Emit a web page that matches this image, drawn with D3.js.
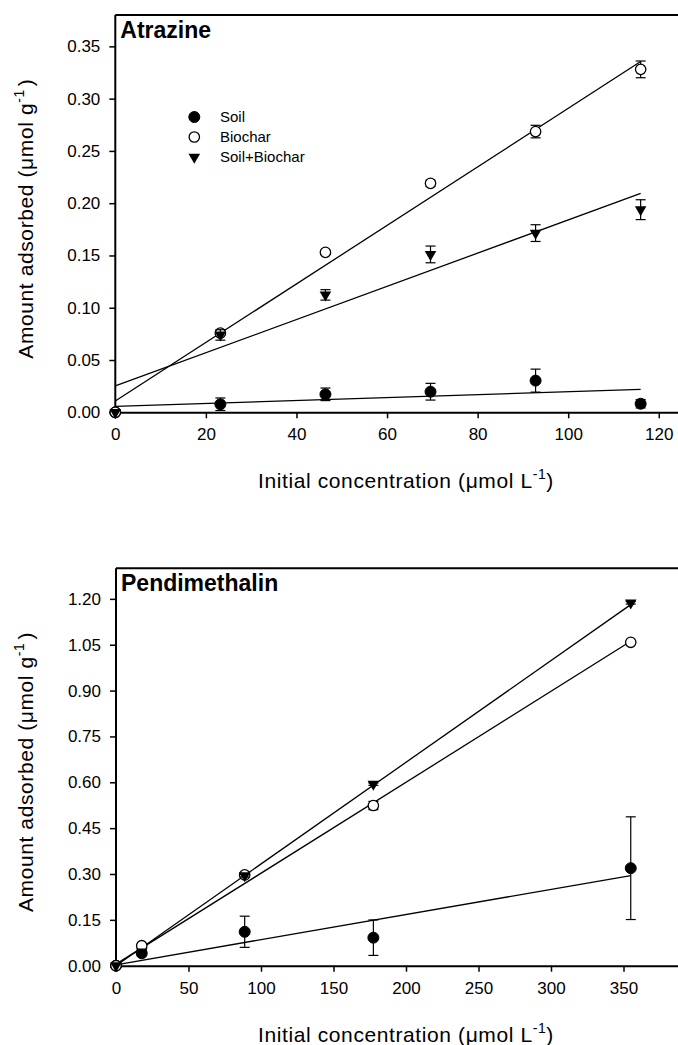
<!DOCTYPE html>
<html>
<head>
<meta charset="utf-8">
<script src="https://cdn.jsdelivr.net/npm/d3@7"></script>
<style>
  body { margin: 0; background: #fff; }
  svg text { font-family: "Liberation Sans", Arial, sans-serif; fill: #000; }
</style>
</head>
<body>
<svg id="chart" width="678" height="1045"></svg>
<script>
// Atrazine panel
const atrazineConc = [0, 23.2, 46.4, 69.6, 92.8, 116]
const atrazineSoil = [0, 0.0077, 0.0172, 0.0197, 0.0303, 0.0082]
const atrazineSoilErr = [0.001, 0.006, 0.006, 0.008, 0.011, 0.004]
const atrazineBiochar = [0, 0.0757, 0.153, 0.219, 0.2685, 0.328]
const atrazineBiocharErr = [0, 0.002, 0.002, 0.003, 0.006, 0.008]
const atrazineMix = [0, 0.074, 0.1123, 0.151, 0.1714, 0.1938]
const atrazineMixErr = [0, 0.005, 0.005, 0.008, 0.008, 0.0095]
// fitted lines: [intercept, slope]
const atrazineFits = [[0.0057, 0.0001405], [0.0108, 0.002799], [0.0252, 0.001588]]
const atrazineXTicks = [0, 20, 40, 60, 80, 100, 120]
const atrazineYTicks = [0, 0.05, 0.10, 0.15, 0.20, 0.25, 0.30, 0.35]

// Pendimethalin panel
const pendiConc = [0, 17.75, 88.75, 177.5, 355]
const pendiSoil = [0, 0.0406, 0.111, 0.0917, 0.319]
const pendiSoilErr = [0, 0.008, 0.051, 0.058, 0.168]
const pendiBiochar = [0, 0.0655, 0.297, 0.524, 1.058]
const pendiBiocharErr = [0, 0.003, 0.005, 0.0135, 0.004]
const pendiMix = [0, 0.045, 0.295, 0.594, 1.187]
const pendiMixErr = [0, 0.004, 0.005, 0.004, 0.004]
const pendiFits = [[0.003, 0.000822], [0.005, 0.002975], [0.0, 0.003327]]
const pendiXTicks = [0, 50, 100, 150, 200, 250, 300, 350]
const pendiYTicks = [0, 0.15, 0.30, 0.45, 0.60, 0.75, 0.90, 1.05, 1.20]

const seriesNames = ["Soil", "Biochar", "Soil+Biochar"]
const markers = ["filled", "open", "triangle"]

const svg = d3.select("#chart")

function drawMarker(g, type, x, y) {
    if (type === "filled") {
        g.append("circle").attr("cx", x).attr("cy", y).attr("r", 5.5)
            .style("fill", "#000").style("stroke", "#000").style("stroke-width", 1)
    } else if (type === "open") {
        g.append("circle").attr("cx", x).attr("cy", y).attr("r", 5.2)
            .style("fill", "#fff").style("stroke", "#000").style("stroke-width", 1.3)
    } else {
        g.append("path")
            .attr("d", d3.symbol().type(d3.symbolTriangle).size(58)())
            .attr("transform", "translate(" + x + "," + y + ")rotate(180)")
            .style("fill", "#000")
    }
}

function drawPanel(opt) {
    const x = d3.scaleLinear().domain(opt.xDomain).range([opt.left, opt.right])
    const y = d3.scaleLinear().domain(opt.yDomain).range([opt.bottom, opt.top])
    const g = svg.append("g")

    // top border of the frame
    g.append("line")
        .attr("x1", opt.left).attr("x2", 678)
        .attr("y1", opt.top).attr("y2", opt.top)
        .style("stroke", "#000").style("stroke-width", 2)

    const xAxis = g.append("g")
        .attr("transform", "translate(0," + opt.bottom + ")")
        .call(d3.axisBottom(x).tickValues(opt.xTicks).tickSize(6).tickSizeOuter(0).tickPadding(10)
            .tickFormat(d3.format("d")))
    const yAxis = g.append("g")
        .attr("transform", "translate(" + opt.left + ",0)")
        .call(d3.axisLeft(y).tickValues(opt.yTicks).tickSize(6).tickSizeOuter(0).tickPadding(9)
            .tickFormat(d3.format(".2f")))
    ;[xAxis, yAxis].forEach(a => {
        a.select(".domain").style("stroke", "#000").style("stroke-width", 2)
        a.selectAll(".tick line").style("stroke", "#000").style("stroke-width", 1.5)
        a.selectAll(".tick text").style("font-size", "17px").style("font-family", "Liberation Sans, Arial, sans-serif")
    })
    // y domain line should span the whole frame height
    yAxis.select(".domain").attr("d", "M0," + opt.top + "V" + opt.bottom)

    // fitted lines
    opt.fits.forEach(f => {
        const x0 = opt.conc[0], x1 = opt.conc[opt.conc.length - 1]
        g.append("line")
            .attr("x1", x(x0)).attr("y1", y(f[0] + f[1] * x0))
            .attr("x2", x(x1)).attr("y2", y(f[0] + f[1] * x1))
            .style("stroke", "#000").style("stroke-width", 1.3)
    })

    // error bars then markers, series by series
    opt.series.forEach((s, i) => {
        opt.conc.forEach((c, j) => {
            const e = s.err[j]
            if (e > 0) {
                const cx = x(c)
                const yt = y(s.values[j] + e), yb = y(s.values[j] - e)
                g.append("line").attr("x1", cx).attr("x2", cx).attr("y1", yt).attr("y2", yb)
                    .style("stroke", "#000").style("stroke-width", 1.2)
                ;[yt, yb].forEach(yy => {
                    g.append("line").attr("x1", cx - 5).attr("x2", cx + 5).attr("y1", yy).attr("y2", yy)
                        .style("stroke", "#000").style("stroke-width", 1.2)
                })
            }
        })
        opt.conc.forEach((c, j) => drawMarker(g, markers[i], x(c), y(s.values[j])))
    })

    // panel name
    g.append("text")
        .attr("x", opt.left + 5).attr("y", opt.top + 23)
        .style("font-size", "23px").style("font-weight", "bold")
        .text(opt.name)

    // axis titles
    const xt = g.append("text")
        .attr("x", 406).attr("y", opt.bottom + 76)
        .attr("text-anchor", "middle")
        .style("font-size", "21px").style("letter-spacing", "0.6px")
    xt.append("tspan").text("Initial concentration (\u03bcmol L")
    xt.append("tspan").attr("dy", -9).style("font-size", "14px").text("-1")
    xt.append("tspan").attr("dy", 9).text(")")

    const yt = g.append("text")
        .attr("transform", "translate(33," + ((opt.top + opt.bottom) / 2 + 5) + ")rotate(-90)")
        .attr("text-anchor", "middle")
        .style("font-size", "21px").style("letter-spacing", "0.6px")
    yt.append("tspan").text("Amount adsorbed (\u03bcmol g")
    yt.append("tspan").attr("dy", -9).style("font-size", "14px").text("-1")
    yt.append("tspan").attr("dy", 9).attr("dx", 3).text(")")

    return g
}

drawPanel({
    name: "Atrazine",
    left: 115.3, right: 695, top: 15, bottom: 412.3,
    xDomain: [0, 128], yDomain: [0, 0.38],
    xTicks: atrazineXTicks, yTicks: atrazineYTicks,
    conc: atrazineConc, fits: atrazineFits,
    series: [
        {values: atrazineSoil, err: atrazineSoilErr},
        {values: atrazineBiochar, err: atrazineBiocharErr},
        {values: atrazineMix, err: atrazineMixErr}
    ]
})

drawPanel({
    name: "Pendimethalin",
    left: 116, right: 696, top: 568.3, bottom: 965.7,
    xDomain: [0, 400], yDomain: [0, 1.30],
    xTicks: pendiXTicks, yTicks: pendiYTicks,
    conc: pendiConc, fits: pendiFits,
    series: [
        {values: pendiSoil, err: pendiSoilErr},
        {values: pendiBiochar, err: pendiBiocharErr},
        {values: pendiMix, err: pendiMixErr}
    ]
})

// legend (top panel only)
const legend = svg.append("g")
seriesNames.forEach((n, i) => {
    const ly = 117 + i * 20
    drawMarker(legend, markers[i], 194.3, ly)
    legend.append("text")
        .attr("x", 220).attr("y", ly).attr("dy", "0.35em")
        .style("font-size", "15px")
        .text(n)
})
</script>
</body>
</html>
